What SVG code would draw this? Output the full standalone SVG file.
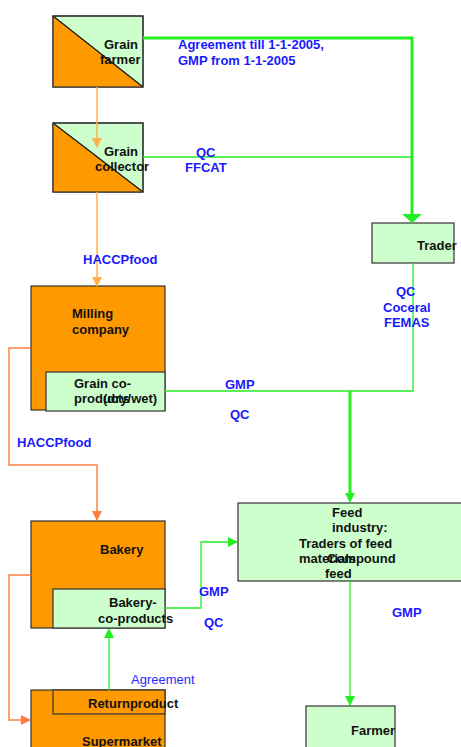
<svg xmlns="http://www.w3.org/2000/svg" width="461" height="747" viewBox="0 0 461 747">
<style>
.box{stroke:#333;stroke-width:1.2}
.or{fill:#ff9900}
.gr{fill:#ccffcc}
.t{font-family:"Liberation Sans",Arial,sans-serif;font-size:13px;font-weight:bold;fill:#111}
.b{font-family:"Liberation Sans",Arial,sans-serif;font-size:13px;font-weight:bold;fill:#1a1aff}
.bn{font-family:"Liberation Sans",Arial,sans-serif;font-size:13px;fill:#2a2aff}
.g{fill:none;stroke:#22ee22;stroke-width:1.3}
.gt{fill:none;stroke:#22ee22;stroke-width:3}
.o1{fill:none;stroke:#ffb04a;stroke-width:1.5}
.o2{fill:none;stroke:#ff8040;stroke-width:1.5}
</style>
<defs>
<marker id="ag" markerUnits="userSpaceOnUse" markerWidth="10" markerHeight="10" refX="9" refY="5" orient="auto" viewBox="0 0 10 10"><path d="M0,0 L10,5 L0,10 Z" fill="#22ee22"/></marker>
<marker id="ao1" markerUnits="userSpaceOnUse" markerWidth="10" markerHeight="10" refX="9" refY="5" orient="auto" viewBox="0 0 10 10"><path d="M0,0 L10,5 L0,10 Z" fill="#ffb04a"/></marker>
<marker id="ao2" markerUnits="userSpaceOnUse" markerWidth="10" markerHeight="10" refX="9" refY="5" orient="auto" viewBox="0 0 10 10"><path d="M0,0 L10,5 L0,10 Z" fill="#ff8040"/></marker>
</defs>
<g id="grain-farmer">
<rect class="box gr" x="53" y="16" width="90" height="71"/>
<path d="M53,16 L143,87 L53,87 Z" class="or"/>
<path d="M53,16 L143,87" stroke="#111" stroke-width="1.2"/>
<rect x="53" y="16" width="90" height="71" fill="none" stroke="#333" stroke-width="1.2"/>
<text class="t" x="104" y="49">Grain</text>
<text class="t" x="100" y="64">farmer</text>
</g>
<g id="grain-collector">
<rect class="box gr" x="53" y="123" width="90" height="69"/>
<path d="M53,123 L143,192 L53,192 Z" class="or"/>
<path d="M53,123 L143,192" stroke="#111" stroke-width="1.2"/>
<rect x="53" y="123" width="90" height="69" fill="none" stroke="#333" stroke-width="1.2"/>
<text class="t" x="104" y="156">Grain</text>
<text class="t" x="95" y="171">collector</text>
</g>
<g id="trader">
<rect class="box gr" x="372" y="223" width="82" height="40"/>
<text class="t" x="417" y="250">Trader</text>
</g>
<g id="milling-company">
<rect class="box or" x="31" y="286" width="134" height="124"/>
<text class="t" x="72" y="318">Milling</text>
<text class="t" x="72" y="334">company</text>
<rect class="box gr" x="46" y="372" width="119" height="39"/>
<text class="t" x="74" y="388">Grain co-</text>
<text class="t" x="74" y="403">products</text>
<text class="t" x="103" y="403">(dry/wet)</text>
</g>
<g id="bakery">
<rect class="box or" x="31" y="521" width="134" height="107"/>
<text class="t" x="100" y="554">Bakery</text>
<rect class="box gr" x="53" y="589" width="112" height="39"/>
<text class="t" x="109" y="607">Bakery-</text>
<text class="t" x="98" y="623">co-products</text>
</g>
<g id="supermarket">
<rect class="box or" x="31" y="690" width="134" height="70"/>
<rect class="box or" x="53" y="690" width="112" height="24"/>
<text class="t" x="88" y="708">Returnproduct</text>
<text class="t" x="82" y="746">Supermarket</text>
</g>
<g id="feed-industry">
<rect class="box gr" x="238" y="503" width="230" height="78"/>
<text class="t" x="332" y="517">Feed</text>
<text class="t" x="332" y="532">industry:</text>
<text class="t" x="299" y="548">Traders of feed</text>
<text class="t" x="299" y="563">materials</text>
<text class="t" x="327" y="563">Compound</text>
<text class="t" x="325" y="578">feed</text>
</g>
<g id="farmer">
<rect class="box gr" x="306" y="706" width="89" height="60"/>
<text class="t" x="351" y="735">Farmer</text>
</g>
<g id="connectors">
<path class="gt" d="M143,38 H412 V215"/>
<path d="M402,214 L422,214 L412,223 Z" fill="#22ee22"/>
<path class="g" d="M143,157 H412"/>
<path class="o1" d="M97,87 V147" marker-end="url(#ao1)"/>
<path class="o1" d="M97,192 V286" marker-end="url(#ao1)"/>
<path class="g" d="M413,263 V391 H165"/>
<path class="gt" d="M350,391 V494"/>
<path d="M345,493 L355,493 L350,503 Z" fill="#22ee22"/>
<path class="o2" d="M31,348 H9 V465 H97 V520" marker-end="url(#ao2)"/>
<path class="o2" d="M31,575 H9 V720 H30" marker-end="url(#ao2)"/>
<path class="g" d="M165,608 H201 V542 H237" marker-end="url(#ag)"/>
<path class="g" d="M109,690 V629" marker-end="url(#ag)"/>
<path class="g" d="M350,581 V705" marker-end="url(#ag)"/>
</g>
<g id="labels">
<text class="b" x="178" y="49">Agreement till 1-1-2005,</text>
<text class="b" x="178" y="65">GMP from 1-1-2005</text>
<text class="b" x="196" y="157">QC</text>
<text class="b" x="185" y="172">FFCAT</text>
<text class="b" x="83" y="264">HACCPfood</text>
<text class="b" x="396" y="296">QC</text>
<text class="b" x="383" y="312">Coceral</text>
<text class="b" x="384" y="327">FEMAS</text>
<text class="b" x="225" y="389">GMP</text>
<text class="b" x="230" y="419">QC</text>
<text class="b" x="17" y="447">HACCPfood</text>
<text class="b" x="199" y="596">GMP</text>
<text class="b" x="204" y="627">QC</text>
<text class="b" x="392" y="617">GMP</text>
<text class="bn" x="131" y="684">Agreement</text>
</g>
</svg>
